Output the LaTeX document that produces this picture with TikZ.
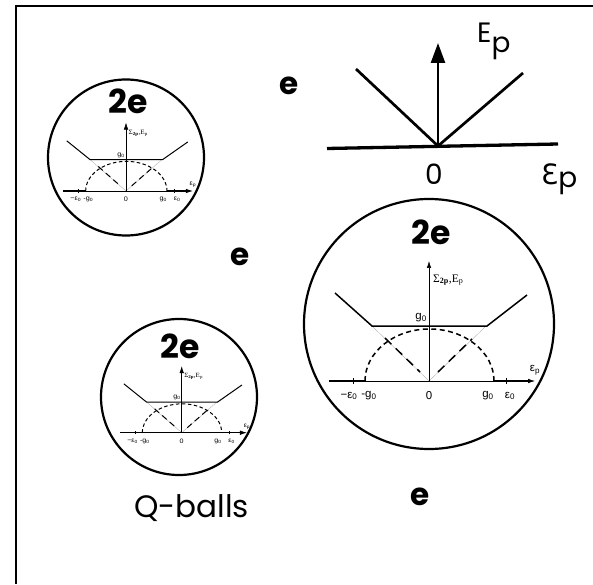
\documentclass[tikz,border=0pt]{standalone}
\usepackage{fontspec}
\setmainfont{Poppins}
\newfontfamily\plotsans{Liberation Sans}
\newfontfamily\plotserif{Liberation Serif}
\newfontfamily\openeps{DejaVu Sans}
\usetikzlibrary{arrows.meta}

\begin{document}
\begin{tikzpicture}[
    x=1pt, y=1pt,
    frame/.style={line width=2.2pt},
    ball/.style={draw, circle, line width=2.2pt, inner sep=0pt},
    charge/.style={font=\bfseries\fontsize{33}{33}\selectfont, inner sep=0pt},
    elec/.style={font=\bfseries\fontsize{31}{31}\selectfont, inner sep=0pt},
    big/.style={font=\fontsize{28}{28}\selectfont, inner sep=0pt},
    lab/.style={font=\plotsans\fontsize{11.5}{12}\selectfont, inner sep=0pt},
    axis/.style={line width=0.6pt, -{Latex[length=7pt,width=4.5pt]}},
    level/.style={line width=1.5pt},
    gap/.style={line width=1.5pt, dash pattern=on 5pt off 3.5pt},
    vgap/.style={line width=1.5pt, dash pattern=on 9pt off 6pt},
    guide/.style={black!35, line width=0.3pt},
    small/.style={level/.style={line width=1pt},
        gap/.style={line width=1pt, dash pattern=on 3.5pt off 2.5pt},
        vgap/.style={line width=1pt, dash pattern=on 6pt off 4pt}},
    pics/gapplot/.style={code={
        \draw[guide] (-57,55) -- (0,0) -- (57,55);
        \draw[level] (-100,0) -- (-64,0) (65,0) -- (101,0);
        \draw[axis] (-100,0) -- (106,0);
        \draw[axis] (0,0) -- (0,120);
        \foreach \tx in {-76,77} \draw[line width=0.6pt] (\tx,-3) -- (\tx,3);
        \draw[level] (-94,88) -- (-57,55) -- (58,55) -- (98,86);
        \draw[gap] (-64,0) arc[start angle=180, end angle=0, x radius=64.5, y radius=52];
        \draw[vgap] (-44,43) -- (-9,9) (9,9) -- (43,42);
        \node[lab, anchor=west] (-sig) at (4,101) {\plotserif Σ\textsubscript{\textbf{2p}},E\textsubscript{p}};
        \node[lab, anchor=east] (-gap) at (-2,63) {g\textsubscript{0}};
        \node[lab] (-eps) at (106,11) {ε\textsubscript{p}};
        \node[lab] (-me) at (-80,-15) {−ε\textsubscript{0}};
        \node[lab] (-mg) at (-60,-15) {-g\textsubscript{0}};
        \node[lab] (-zero) at (0,-15) {0};
        \node[lab] (-pg) at (59,-15) {g\textsubscript{0}};
        \node[lab] (-pe) at (81,-15) {ε\textsubscript{0}};
    }}
]
\useasboundingbox (0,0) rectangle (593,584);
\draw[frame] (16.2,0) -- (16.2,578) -- (593,578);

% dispersion of a free electron
\coordinate (orig) at (438,438);
\draw[line width=3.3pt] (327,435.5) -- (558,440);
\draw[line width=2.7pt] (356,515) -- (orig) -- (523,511);
\draw[line width=2.5pt, -{Triangle[length=20pt,width=14pt]}] (orig) -- (438,541);
\node[big, anchor=base west] (energy) at (477,541) {E\raisebox{-10pt}{p}};
\node[big, anchor=base] (zero) at (434,399) {0};
\node[big, anchor=base west] (momentum) at (541,399) {{\openeps Ɛ}\raisebox{-3pt}{p}};

% Q-balls
\node[ball, minimum size=156pt] (ballA) at (126,426.5) {};
\node[ball, minimum size=250pt] (ballB) at (429,260) {};
\node[ball, minimum size=156pt] (ballC) at (179,187) {};
\node[charge] (qA) at (128,483) {2e};
\node[charge] (qB) at (431,352) {2e};
\node[charge] (qC) at (180,237.5) {2e};
\pic[xscale=.63, yscale=.57, transform shape, small] (plotA) at (126,393) {gapplot};
\pic (plotB) at (429,203) {gapplot};
\pic[xscale=.615, yscale=.555, transform shape, small] (plotC) at (181.7,151.3) {gapplot};

% single electrons
\node[elec, anchor=base] (eA) at (289,489) {e};
\node[elec, anchor=base] (eB) at (240,319) {e};
\node[elec, anchor=base] (eC) at (420,79) {e};
\node[font=\fontsize{31}{31}\selectfont, inner sep=0pt, anchor=base] (qballs) at (191.7,67) {Q-balls};
\end{tikzpicture}
\end{document}
